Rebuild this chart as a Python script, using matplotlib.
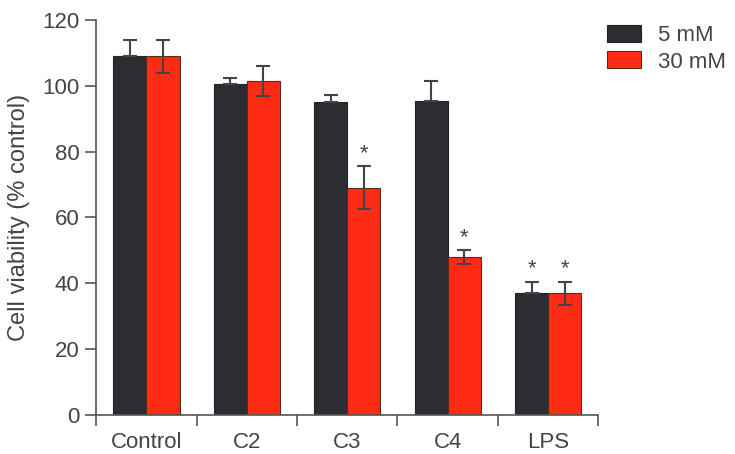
import numpy as np
import matplotlib.pyplot as plt

plt.rcParams['font.family'] = ['Liberation Sans', 'DejaVu Sans']

groups = ["Control", "C2", "C3", "C4", "LPS"]
low_vals = [109, 100.5, 95.2, 95.5, 37]
low_err = [5, 2, 2, 6, 3.5]
high_vals = [109, 101.5, 69, 48, 37]
high_err = [5, 4.5, 6.5, 2, 3.5]
low_star = [False, False, False, False, True]
high_star = [False, False, True, True, True]

black = "#2c2d33"
red = "#fe2b15"
txt = "#444444"
fs = 16

fig = plt.figure(figsize=(7.35, 4.54), dpi=100)
ax = fig.add_axes([0.131, 0.086, 0.683, 0.870])

x = np.arange(len(groups))
w = 0.33
ax.bar(x - w / 2, low_vals, w, color=black, edgecolor="#222", linewidth=0.8, label="5 mM", zorder=2)
ax.bar(x + w / 2, high_vals, w, color=red, edgecolor="#5a2a20", linewidth=0.8, label="30 mM", zorder=2)

ekw = dict(fmt="none", ecolor="#444", elinewidth=1.5, capsize=4.8, capthick=1.5, zorder=3)
ax.errorbar(x - w / 2, low_vals, yerr=[np.zeros(len(low_err)), low_err], **ekw)
ax.errorbar(x + w / 2, high_vals, yerr=high_err, **ekw)

for i in range(len(groups)):
    if low_star[i]:
        ax.text(x[i] - w / 2, low_vals[i] + low_err[i] + 0.8, "*", ha="center", va="bottom", fontsize=fs, color=txt)
    if high_star[i]:
        ax.text(x[i] + w / 2, high_vals[i] + high_err[i] + 0.8, "*", ha="center", va="bottom", fontsize=fs, color=txt)

ax.set_xlim(-0.5, 4.5)
ax.set_ylim(0, 120)
ax.set_yticks(np.arange(0, 121, 20))
ax.set_xticks(np.arange(-0.5, 4.6, 1))
ax.set_xticklabels([])
ax.set_xticks(x, minor=True)
ax.set_xticklabels(groups, minor=True)
ax.tick_params(axis="x", which="minor", length=0, pad=12, labelsize=fs, labelcolor=txt)
ax.tick_params(axis="x", which="major", length=8, width=1.2, color="#555")
ax.tick_params(axis="y", length=8, width=1.2, color="#555", labelsize=fs, labelcolor=txt, pad=4)
for s in ["top", "right"]:
    ax.spines[s].set_visible(False)
for s in ["left", "bottom"]:
    ax.spines[s].set_color("#555")
    ax.spines[s].set_linewidth(1.2)

ax.set_ylabel("Cell viability (% control)", fontsize=17, color=txt, labelpad=9)

fig.legend(loc="upper left", bbox_to_anchor=(0.799, 0.99), frameon=False, fontsize=fs,
           handlelength=1.5, handleheight=0.8, handletextpad=0.8, labelspacing=0.25,
           labelcolor=txt)

fig.savefig("out.png", dpi=100)
